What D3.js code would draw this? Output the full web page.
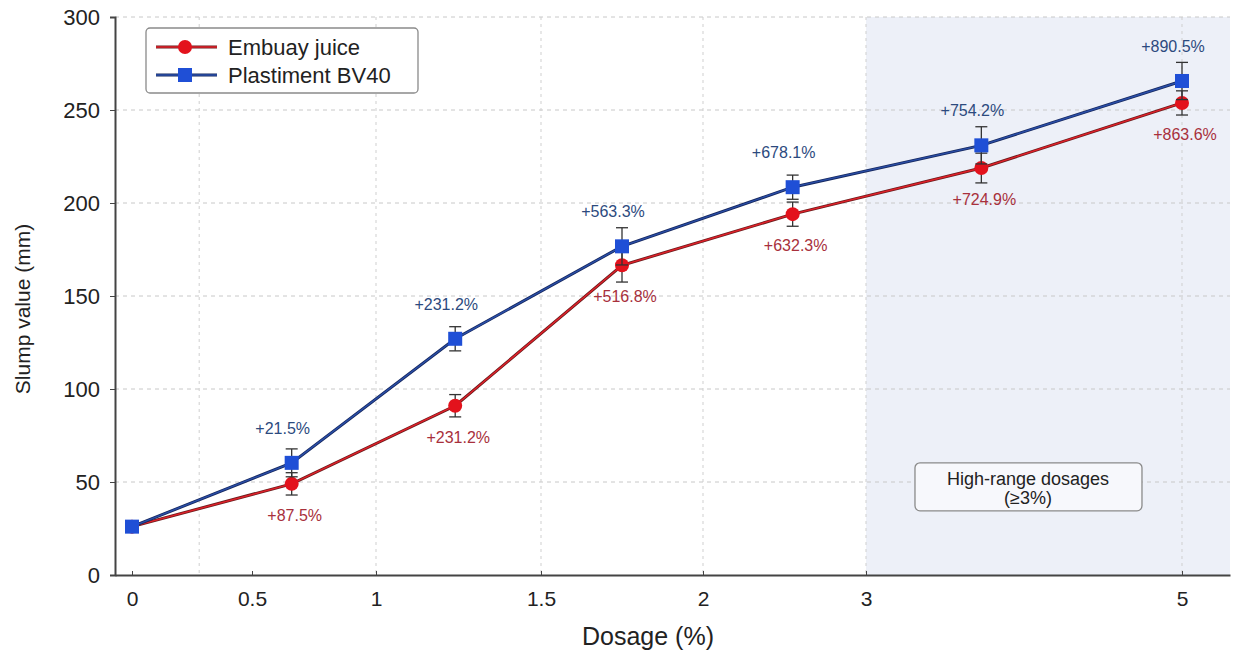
<!DOCTYPE html>
<html>
<head>
<meta charset="utf-8">
<script src="https://cdn.jsdelivr.net/npm/d3@7"></script>
<style>
  body { margin: 0; background: #fff; }
  svg { font-family: "Liberation Sans", Arial, sans-serif; }
</style>
</head>
<body>
<div id="chart"></div>
<script>
// data
const dosage = [0, 0.66, 1.24, 1.75, 2.55, 3.73, 5];
const embuay = [26, 49, 91, 166.5, 194, 218.8, 253.8];
const embuayErr = [0, 6, 6, 9, 6.5, 8, 6.5];
const embuayLabels = ["", "+87.5%", "+231.2%", "+516.8%", "+632.3%", "+724.9%", "+863.6%"];
const plastiment = [26, 60.3, 127, 176.7, 208.5, 231, 265.6];
const plastimentErr = [0, 7.5, 6.5, 10, 6.5, 10, 10];
const plastimentLabels = ["", "+21.5%", "+231.2%", "+563.3%", "+678.1%", "+754.2%", "+890.5%"];
const xTicks = [0, 0.5, 1, 1.5, 2, 3, 5];
const xGrid = [0.28, 1, 1.5, 2, 3, 5];
const yTicks = [0, 50, 100, 150, 200, 250, 300];
const seriesNames = ["Embuay juice", "Plastiment BV40"];

const W = 1238, H = 654;
const margin = { top: 17, right: 8, bottom: 79, left: 115 };
const width = W - margin.left - margin.right;
const height = H - margin.top - margin.bottom;

const svg = d3.select('#chart').append('svg')
  .attr('width', W).attr('height', H);
const g = svg.append('g')
  .attr('transform', `translate(${margin.left},${margin.top})`);

// the dosage axis is piecewise (uneven spacing between tick values)
const x = d3.scaleLinear()
  .domain([-0.07, 0, 0.5, 1, 1.5, 2, 3, 5, 5.3])
  .range([0, 17, 137, 261, 426, 588, 751, 1067, width]);
const y = d3.scaleLinear().domain([0, 300]).range([height, 0]);

// high-range shaded band
g.append('rect')
  .attr('x', x(3)).attr('y', 0)
  .attr('width', width - x(3)).attr('height', height)
  .attr('fill', '#edf0f8');

// grid
g.selectAll('.hgrid').data(yTicks.slice(1)).enter().append('line')
  .attr('x1', 0).attr('x2', width)
  .attr('y1', d => y(d)).attr('y2', d => y(d))
  .attr('stroke', '#c8c8c8').attr('stroke-width', 1).attr('stroke-dasharray', '4,4');
g.selectAll('.vgrid').data(xGrid).enter().append('line')
  .attr('x1', d => x(d)).attr('x2', d => x(d))
  .attr('y1', 0).attr('y2', height)
  .attr('stroke', '#cfcfcf').attr('stroke-width', 1).attr('stroke-dasharray', '3,4');

// annotation box
const ann = g.append('g').attr('transform', `translate(${x(3.31)},${y(60.3)})`);
ann.append('rect').attr('width', 227).attr('height', 48).attr('rx', 5)
  .attr('fill', '#f7f8fc').attr('stroke', '#8a8a8a').attr('stroke-width', 1.3);
ann.append('text').attr('x', 113).attr('y', 22).attr('text-anchor', 'middle')
  .attr('font-size', 18).attr('fill', '#222').text('High-range dosages');
ann.append('text').attr('x', 113).attr('y', 41).attr('text-anchor', 'middle')
  .attr('font-size', 18).attr('fill', '#222').text('(≥3%)');

// axes
const xAxis = g.append('g').attr('transform', `translate(0,${height})`)
  .call(d3.axisBottom(x).tickValues(xTicks).tickSizeInner(-4).tickSizeOuter(0).tickPadding(16)
    .tickFormat(d => d3.format('')(d)));
xAxis.select('.domain').attr('stroke', '#444').attr('stroke-width', 2);
xAxis.selectAll('.tick line').attr('stroke', '#444');
xAxis.selectAll('.tick text').attr('font-size', 21).attr('fill', '#222');

const yAxis = g.append('g')
  .call(d3.axisLeft(y).tickValues(yTicks).tickSizeInner(5).tickSizeOuter(5).tickPadding(10));
yAxis.select('.domain').attr('stroke', '#444').attr('stroke-width', 2);
yAxis.selectAll('.tick line').attr('stroke', '#444');
yAxis.selectAll('.tick text').attr('font-size', 22).attr('fill', '#222');

svg.append('text').attr('x', 648).attr('y', 645).attr('text-anchor', 'middle')
  .attr('font-size', 25).attr('fill', '#222').text('Dosage (%)');
svg.append('text').attr('transform', 'translate(30,309) rotate(-90)')
  .attr('text-anchor', 'middle').attr('font-size', 21).attr('fill', '#222').text('Slump value (mm)');

const line = d3.line().x(d => x(d[0])).y(d => y(d[1]));

function drawSeries(vals, errs, opt) {
  const pts = dosage.map((d, i) => [d, vals[i], errs[i]]);
  // error bars
  const eb = g.append('g');
  pts.filter(p => p[2] > 0).forEach(p => {
    const cx = x(p[0]);
    eb.append('line').attr('x1', cx).attr('x2', cx)
      .attr('y1', y(p[1] - p[2])).attr('y2', y(p[1] + p[2]))
      .attr('stroke', '#333').attr('stroke-width', 1.3);
    [p[1] - p[2], p[1] + p[2]].forEach(v => {
      eb.append('line').attr('x1', cx - 6).attr('x2', cx + 6)
        .attr('y1', y(v)).attr('y2', y(v))
        .attr('stroke', '#333').attr('stroke-width', 1.3);
    });
  });
  g.append('path').datum(pts).attr('d', line)
    .attr('fill', 'none').attr('stroke', opt.edge).attr('stroke-width', 3);
  g.append('path').datum(pts).attr('d', line)
    .attr('fill', 'none').attr('stroke', opt.line).attr('stroke-width', 1.4);
  if (opt.shape === 'circle') {
    g.selectAll(null).data(pts).enter().append('circle')
      .attr('cx', d => x(d[0])).attr('cy', d => y(d[1])).attr('r', 7)
      .attr('fill', opt.marker);
  } else {
    g.selectAll(null).data(pts).enter().append('rect')
      .attr('x', d => x(d[0]) - 7).attr('y', d => y(d[1]) - 7)
      .attr('width', 14).attr('height', 14)
      .attr('fill', opt.marker);
  }
}

function drawLabels(vals, labels, dy, dx, color) {
  g.selectAll(null).data(dosage.map((d, i) => [d, vals[i], labels[i]]).filter(d => d[2]))
    .enter().append('text')
    .attr('x', d => x(d[0]) + dx).attr('y', d => y(d[1]) + dy)
    .attr('text-anchor', 'middle').attr('font-size', 16).attr('fill', color)
    .text(d => d[2]);
}

drawSeries(embuay, embuayErr, { edge: '#6a1c1c', line: '#e2202a', marker: '#e3121c', shape: 'circle' });
drawSeries(plastiment, plastimentErr, { edge: '#16285e', line: '#2a4ea8', marker: '#1f4fd6', shape: 'square' });
drawLabels(embuay, embuayLabels, 37, 3, '#a8303c');
drawLabels(plastiment, plastimentLabels, -29, -9, '#2c4a7e');

// legend
const lg = svg.append('g').attr('transform', 'translate(146,28)');
lg.append('rect').attr('width', 272).attr('height', 65).attr('rx', 4)
  .attr('fill', '#fff').attr('stroke', '#8a8a8a').attr('stroke-width', 1.3);
const legendStyles = [
  { edge: '#6a1c1c', line: '#e2202a', marker: '#e3121c', shape: 'circle' },
  { edge: '#16285e', line: '#2a4ea8', marker: '#1f4fd6', shape: 'square' }
];
seriesNames.forEach((name, i) => {
  const s = legendStyles[i];
  const row = lg.append('g').attr('transform', `translate(0,${19 + i * 28})`);
  row.append('line').attr('x1', 10).attr('x2', 71).attr('stroke', s.edge).attr('stroke-width', 3);
  row.append('line').attr('x1', 10).attr('x2', 71).attr('stroke', s.line).attr('stroke-width', 1.4);
  if (s.shape === 'circle') row.append('circle').attr('cx', 39).attr('r', 7).attr('fill', s.marker);
  else row.append('rect').attr('x', 32).attr('y', -7).attr('width', 14).attr('height', 14).attr('fill', s.marker);
  row.append('text').attr('x', 82).attr('y', 8).attr('font-size', 22).attr('fill', '#222').text(name);
});
</script>
</body>
</html>
